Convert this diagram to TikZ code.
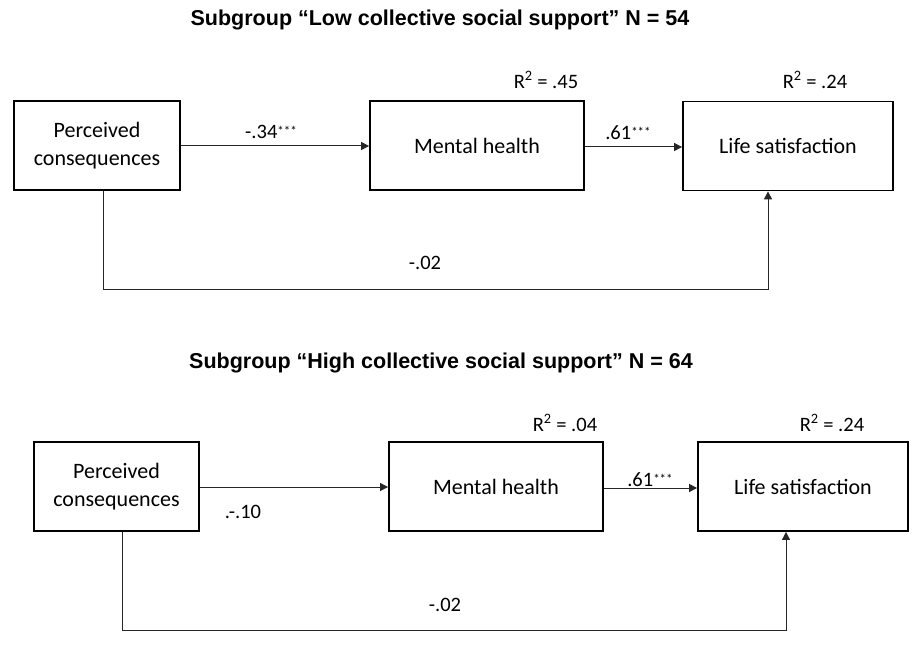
\documentclass[tikz,border=0pt]{standalone}
\usepackage{fontspec}
\setmainfont{Carlito}
\newfontfamily\titlefont{Liberation Sans}
\usetikzlibrary{arrows.meta}
\tikzset{
  box/.style={draw, line width=1.8bp, minimum width=#1, minimum height=89bp, inner sep=0pt, align=center, font=\fontsize{22bp}{28bp}\selectfont},
  conn/.style={line width=1bp, draw=black!85},
  arr/.style={conn, -{Triangle[length=8bp,width=8bp]}},
  lab/.style={font=\fontsize{20.5bp}{24bp}\selectfont, inner sep=0pt},
  ttl/.style={font=\titlefont\bfseries\fontsize{21.5bp}{24bp}\selectfont, inner sep=0pt},
}
\newcommand\sigstars{\raisebox{0.35ex}{\fontsize{13bp}{13bp}\selectfont ***}}
\begin{document}
\begin{tikzpicture}[x=1bp,y=-1bp]
\useasboundingbox (0,0) rectangle (919,647);
% ---------- top group ----------
\node[ttl] (t1) at (440,20) {Subgroup “Low collective social support” N = 54};
\node[box=166bp] (pc1) at (97,145.5) {Perceived\\consequences};
\node[box=214bp] (mh1) at (477,145.5) {Mental health};
\node[box=210bp] (ls1) at (788,146) {Life satisfaction};
\node[lab] (r1a) at (546,80) {R\textsuperscript{2} = .45};
\node[lab] (r1b) at (815,80) {R\textsuperscript{2} = .24};
\draw[arr] (pc1.east |- 0,146) -- (mh1.west |- 0,146);
\draw[arr] (mh1.east |- 0,147) -- (ls1.west |- 0,147);
\node[lab] (l1a) at (271,132) {-.34\sigstars};
\node[lab] (l1b) at (628,133) {.61\sigstars};
\coordinate (p1a) at (103.5,289);
\coordinate (p1b) at (768,289);
\draw[arr] (pc1.south -| p1a) -- (p1a) -- (p1b) -- (ls1.south -| p1b);
\node[lab] (l1c) at (425,263) {-.02};
% ---------- bottom group ----------
\node[ttl] (t2) at (441,363) {Subgroup “High collective social support” N = 64};
\node[box=165bp] (pc2) at (116.5,486.5) {Perceived\\consequences};
\node[box=214bp] (mh2) at (496,486.5) {Mental health};
\node[box=210bp] (ls2) at (803,486.5) {Life satisfaction};
\node[lab] (r2a) at (565,423) {R\textsuperscript{2} = .04};
\node[lab] (r2b) at (832,423) {R\textsuperscript{2} = .24};
\draw[arr] (pc2.east |- 0,487) -- (mh2.west |- 0,487);
\draw[arr] (mh2.east |- 0,488) -- (ls2.west |- 0,488);
\node[lab] (l2a) at (243,512) {.-.10};
\node[lab] (l2b) at (650,480) {.61\sigstars};
\coordinate (p2a) at (122.7,630);
\coordinate (p2b) at (786,630);
\draw[arr] (pc2.south -| p2a) -- (p2a) -- (p2b) -- (ls2.south -| p2b);
\node[lab] (l2c) at (445,605) {-.02};
\end{tikzpicture}
\end{document}
